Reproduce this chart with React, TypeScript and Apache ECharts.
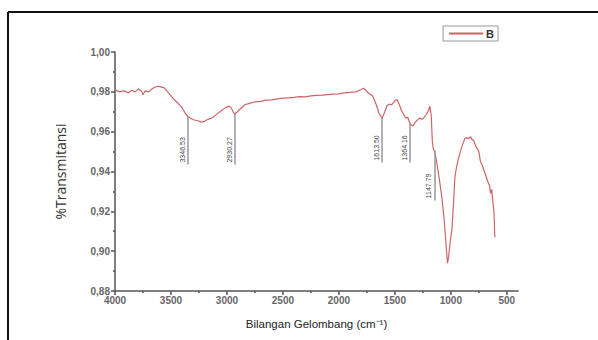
import React, { useEffect, useRef } from "react";
import * as echarts from "echarts";

const wavenumbers = [
  4000, 3960, 3920, 3880, 3850, 3820, 3790, 3760, 3750, 3730, 3700, 3680, 3650, 3620, 3590, 3560, 3530, 3500,
  3470, 3440, 3400, 3370, 3346.53, 3300, 3260, 3230, 3200, 3170, 3130, 3090, 3050, 3010, 2980, 2960, 2940,
  2930.27, 2910, 2880, 2840, 2800, 2750, 2700, 2650, 2600, 2550, 2500, 2450, 2400, 2350, 2300, 2250, 2200,
  2150, 2100, 2050, 2000, 1950, 1900, 1850, 1800, 1780, 1760, 1740, 1720, 1700, 1680, 1660, 1640, 1613.5,
  1590, 1570, 1550, 1530, 1500, 1480, 1460, 1440, 1420, 1400, 1385, 1364.16, 1340, 1320, 1300, 1280, 1260,
  1240, 1220, 1200, 1188, 1175, 1165, 1155, 1147.79, 1135, 1120, 1100, 1080, 1060, 1045, 1030, 1020, 1005,
  990, 975, 964, 950, 935, 915, 895, 875, 860, 840, 825, 810, 795, 780, 765, 750, 735, 715, 700, 685, 670,
  655, 645, 635, 625, 615, 607,
];
const transmittance = [
  0.981, 0.98, 0.9805, 0.9795, 0.9808, 0.98, 0.9815, 0.9802, 0.9785, 0.9805, 0.98, 0.981, 0.9822, 0.9828, 0.9825,
  0.982, 0.98, 0.978, 0.976, 0.9745, 0.972, 0.969, 0.9675, 0.966, 0.9655, 0.9648, 0.9652, 0.9662, 0.967,
  0.9688, 0.9705, 0.9722, 0.9728, 0.9718, 0.9695, 0.969, 0.9698, 0.9715, 0.9735, 0.9742, 0.975, 0.9752,
  0.9758, 0.976, 0.9765, 0.9768, 0.977, 0.9772, 0.9776, 0.9775, 0.978, 0.9782, 0.9783, 0.9786, 0.9788,
  0.979, 0.9795, 0.9797, 0.98, 0.9812, 0.9818, 0.9808, 0.9795, 0.9788, 0.978, 0.9755, 0.9725, 0.969, 0.9668,
  0.97, 0.973, 0.9738, 0.9735, 0.9755, 0.9762, 0.9735, 0.9705, 0.9685, 0.9668, 0.9672, 0.964, 0.9628, 0.9645,
  0.9658, 0.9668, 0.9662, 0.967, 0.9685, 0.9705, 0.9728, 0.968, 0.955, 0.951, 0.9505, 0.9475, 0.9425, 0.935,
  0.927, 0.916, 0.905, 0.894, 0.897, 0.905, 0.911, 0.925, 0.937, 0.942, 0.9458, 0.95, 0.9535, 0.9565, 0.957,
  0.9565, 0.9575, 0.956, 0.9555, 0.953, 0.9515, 0.95, 0.945, 0.9425, 0.94, 0.9375, 0.935, 0.933, 0.929,
  0.931, 0.925, 0.92, 0.907,
];
const peakLabels = ["3346.53", "2930.27", "1613.50", "1364.16", "1147.79"];
const peakPositions = [3346.53, 2930.27, 1613.5, 1364.16, 1147.79];
const peakTops = [0.9675, 0.969, 0.9668, 0.964, 0.9505];
const peakBottoms = [0.9435, 0.9435, 0.9445, 0.9445, 0.9255];
const xMajorTicks = [4000, 3500, 3000, 2500, 2000, 1500, 1000, 500];
const xMinorTicks = [3750, 3250, 2750, 2250, 1750, 1250, 750];

export default function App() {
  const ref = useRef<HTMLDivElement>(null);
  useEffect(() => {
    if (!ref.current) return;
    const chart = echarts.init(ref.current, undefined, { renderer: "svg" });
    const data = wavenumbers.map((w, i) => [w, transmittance[i]]);
    const fmtY = (v: number) => v.toFixed(2).replace(".", ",");
    const lineColor = "#cf6468";
    chart.setOption({
      animation: false,
      backgroundColor: "#fff",
      textStyle: { fontFamily: "Liberation Sans, Arial, sans-serif" },
      grid: { left: 115, right: 80, top: 52, bottom: 49 },
      legend: {
        right: 100,
        top: 26,
        padding: [2, 4, 2, 6],
        borderColor: "#999",
        borderWidth: 1,
        borderRadius: 0,
        itemWidth: 34,
        itemHeight: 2,
        itemGap: 4,
        icon: "rect",
        itemStyle: { color: lineColor, borderWidth: 0 },
        lineStyle: { color: lineColor, width: 1 },
        textStyle: { fontSize: 11, color: "#333", fontWeight: "bold", padding: [0, 0, 0, -2] },
        data: ["B"],
      },
      xAxis: [
        {
          type: "value",
          inverse: true,
          min: 400,
          max: 4000,
          axisLine: { lineStyle: { color: "#555", width: 1.5 } },
          axisTick: { customValues: xMajorTicks, length: 4, lineStyle: { color: "#555", width: 1.5 } },
          axisLabel: {
            customValues: xMajorTicks,
            formatter: (v: number) => String(v),
            fontSize: 10,
            color: "#666",
            fontWeight: "bold",
            margin: 4,
          },
          splitLine: { show: false },
          name: "Bilangan Gelombang (cm\u207B\u00B9)",
          nameLocation: "middle",
          nameGap: 27,
          nameTextStyle: { fontSize: 11.5, color: "#222", fontFamily: "Liberation Sans Narrow, Arial Narrow, sans-serif" },
        },
        {
          type: "value",
          inverse: true,
          min: 400,
          max: 4000,
          position: "bottom",
          axisLine: { show: false },
          axisTick: { customValues: xMinorTicks, length: 2, lineStyle: { color: "#555", width: 1.5 } },
          axisLabel: { show: false },
          splitLine: { show: false },
        },
      ],
      yAxis: {
        type: "value",
        min: 0.88,
        max: 1.0,
        interval: 0.02,
        axisLine: { show: true, lineStyle: { color: "#555", width: 1.5 } },
        axisTick: { show: true, length: 4, lineStyle: { color: "#555", width: 1.5 } },
        minorTick: { show: true, splitNumber: 2, length: 2, lineStyle: { color: "#555", width: 1.5 } },
        axisLabel: { formatter: fmtY, fontSize: 10, color: "#666", fontWeight: "bold", margin: 5 },
        splitLine: { show: false },
        name: "%Transmitansi",
        nameLocation: "middle",
        nameGap: 48,
        nameTextStyle: { fontSize: 14, color: "#333", fontFamily: "Open Sans, sans-serif" },
      },
      graphic: [
        { type: "line", shape: { x1: 8, y1: 12, x2: 598, y2: 12 }, style: { stroke: "#111", lineWidth: 2 } },
        { type: "line", shape: { x1: 8, y1: 12, x2: 8, y2: 340 }, style: { stroke: "#111", lineWidth: 2 } },
      ],
      series: [
        {
          name: "B",
          type: "line",
          data,
          showSymbol: false,
          lineStyle: { color: lineColor, width: 1.2 },
          itemStyle: { color: lineColor },
          markLine: {
            silent: true,
            symbol: "none",
            lineStyle: { color: "#999", width: 1.5, type: "solid" },
            label: {
              show: true,
              position: "insideStartTop",
              fontSize: 7,
              color: "#444",
              distance: 2,
              fontFamily: "Liberation Sans Narrow, Arial Narrow, sans-serif",
            },
            data: peakPositions.map((p, i) => [
              { coord: [p, peakBottoms[i]], label: { formatter: peakLabels[i] } },
              { coord: [p, peakTops[i]] },
            ]),
          },
        },
      ],
    });
    return () => chart.dispose();
  }, []);
  return <div ref={ref} style={{ width: 598, height: 340, position: "absolute", left: 0, top: 0 }} />;
}
